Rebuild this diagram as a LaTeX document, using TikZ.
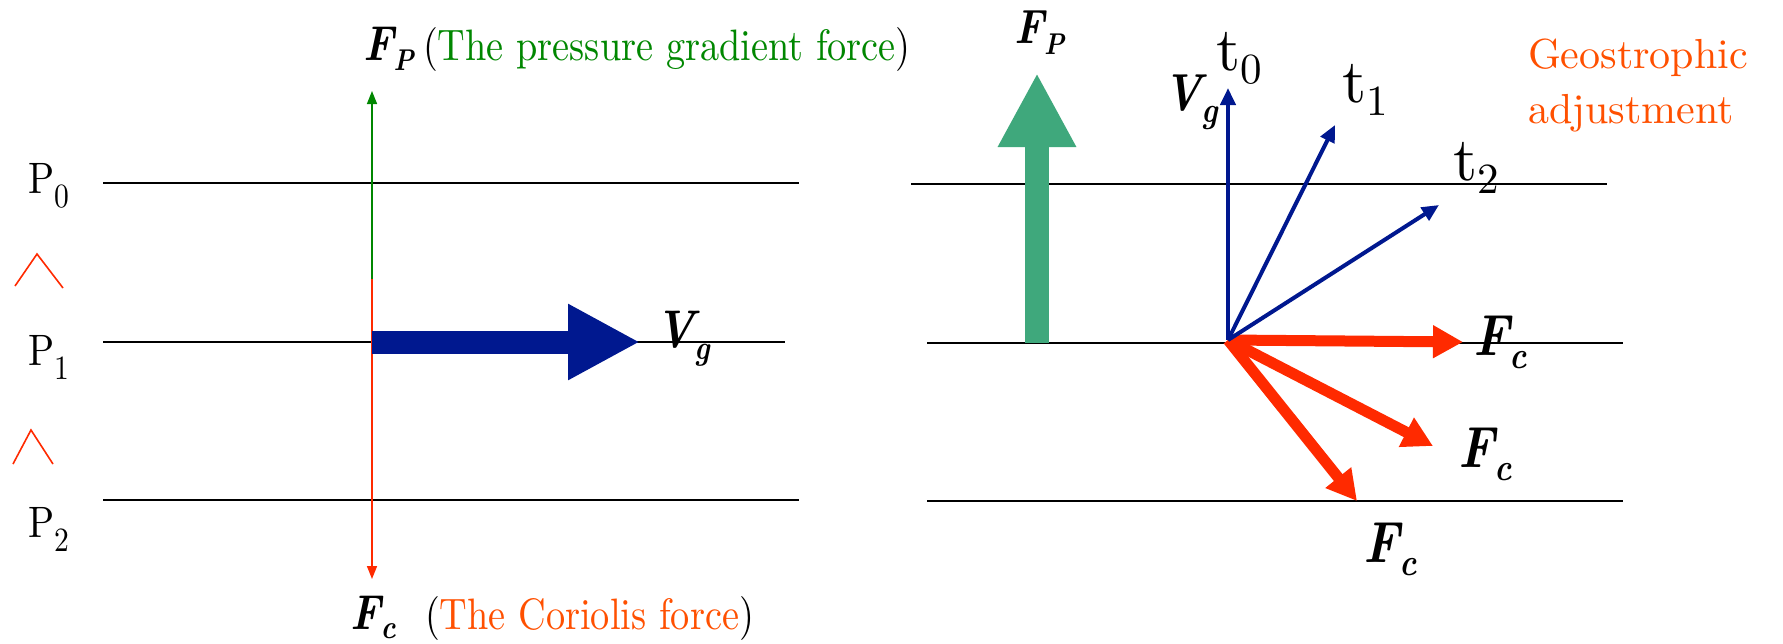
\documentclass[tikz,border=0pt]{standalone}
\usepackage{graphicx}
\usepackage{fontspec}
\newfontfamily\condrm{lmroman10-regular}[Extension=.otf]
\newfontfamily\plainrm{lmroman10-regular}[Extension=.otf]
\newfontfamily\condbi{lmroman10-bolditalic}[Extension=.otf]
\usetikzlibrary{arrows.meta}
\definecolor{fgreen}{RGB}{0,135,0}
\definecolor{orng}{RGB}{255,80,0}
\definecolor{fred}{RGB}{255,42,0}
\definecolor{vnavy}{RGB}{0,24,143}
\definecolor{pgreen}{RGB}{63,168,124}
\newcommand\lowsub[3]{\raisebox{-#2}{\fontsize{#1}{#1}\selectfont #3}}
\newcommand\vecl[5]{\scalebox{0.86}[1]{\condbi\fontsize{#1}{#1}\selectfont #2\lowsub{#3}{#4}{#5}}}
\newcommand\narrow[1]{\scalebox{0.87}[1]{#1}}
\tikzset{
  lbl/.style={anchor=base west, inner sep=0pt, outer sep=0pt},
  level/.style={black, line width=1.4pt},
  thinvec/.style={line width=0.75pt, -{Triangle[length=6.5pt,width=5pt]}},
  bluevec/.style={vnavy, line width=2pt, -{Triangle[length=8.5pt,width=7.5pt]}},
  redvec/.style={fred, line width=5.5pt, -{Triangle[length=15pt,width=15.5pt]}},
  bigblue/.style={vnavy, line width=11.5pt, -{Triangle[length=36pt,width=35.5pt]}},
  biggreen/.style={pgreen, line width=12pt, -{Triangle[length=37pt,width=36.5pt]}},
  caret/.style={fred, line width=0.8pt},
}
\begin{document}
\begin{tikzpicture}[x=0.5pt,y=-0.5pt]
\useasboundingbox (0,0) rectangle (1783,643);
\fill[white] (0,0) rectangle (1783,643);

% ---------- left panel ----------
\coordinate (a0) at (103,183); \coordinate (b0) at (799,183);
\coordinate (a1) at (103,342); \coordinate (b1) at (785,342);
\coordinate (a2) at (103,500); \coordinate (b2) at (799,500);
\draw[level] (a0) -- (b0);
\draw[level] (a1) -- (b1);
\draw[level] (a2) -- (b2);

\node[lbl] (p0) at (28,193) {\narrow{\condrm\fontsize{22}{22}\selectfont P\lowsub{17}{7pt}{0}}};
\node[lbl] (p1) at (28,365) {\narrow{\condrm\fontsize{22}{22}\selectfont P\lowsub{17}{7pt}{1}}};
\node[lbl] (p2) at (28,537) {\narrow{\condrm\fontsize{22}{22}\selectfont P\lowsub{17}{7pt}{2}}};

\draw[caret] (15,286) -- (37,254) -- (63,288);
\draw[caret] (13,464) -- (31,430) -- (53,464);

\coordinate (mid) at (372,279);
\coordinate (fpTip) at (372,91);
\coordinate (fcTip) at (372,579);
\draw[thinvec, fgreen] (mid) -- (fpTip);
\draw[thinvec, fred] (mid) -- (fcTip);

\coordinate (vgStart) at (372,342);
\coordinate (vgTip) at (640,342);
\draw[bigblue] (vgStart) -- (vgTip);

\node[lbl] (fpL) at (363,60) {\vecl{24.5}{F}{15}{5pt}{P}};
\node[lbl] (fpText) at (423,60) {\narrow{\condrm\fontsize{22}{22}\selectfont (\textcolor{fgreen}{The pressure gradient force})}};
\node[lbl] (vgL) at (655,347) {\vecl{26.5}{V}{17}{6pt}{g}};
\node[lbl] (fcL) at (350,629) {\vecl{24.5}{F}{16.5}{4.5pt}{c}};
\node[lbl] (fcText) at (425,629) {\narrow{\condrm\fontsize{22}{22}\selectfont (\textcolor{orng}{The Coriolis force})}};

% ---------- right panel ----------
\coordinate (c0) at (911,184); \coordinate (d0) at (1607,184);
\coordinate (c1) at (927,343); \coordinate (d1) at (1623,343);
\coordinate (c2) at (927,501); \coordinate (d2) at (1623,501);
\draw[level] (c0) -- (d0);
\draw[level] (c1) -- (d1);
\draw[level] (c2) -- (d2);

\coordinate (gpBase) at (1037,343);
\coordinate (gpTip) at (1037,73);
\draw[biggreen] (gpBase) -- (gpTip);
\node[lbl] (fpR) at (1014,43) {\vecl{24}{F}{15}{5.5pt}{P}};

\coordinate (O) at (1228,340);
\coordinate (t0) at (1228,88);
\coordinate (t1) at (1335,125);
\coordinate (t2) at (1439,205);
\coordinate (f0) at (1463,342);
\coordinate (f1) at (1433,446);
\coordinate (f2) at (1357,501);
\draw[redvec] (O) -- (f0);
\draw[redvec] (O) -- (f1);
\draw[redvec] (O) -- (f2);
\draw[bluevec] (O) -- (t0);
\draw[bluevec] (O) -- (t1);
\draw[bluevec] (O) -- (t2);

\node[lbl] (vgR) at (1163,110) {\vecl{26}{V}{18}{6pt}{g}};
\node[lbl] (lt0) at (1216,70) {\plainrm\fontsize{31}{31}\selectfont t\lowsub{21.5}{6.5pt}{0}};
\node[lbl] (lt1) at (1342,102) {\plainrm\fontsize{31}{31}\selectfont t\lowsub{21.5}{6.5pt}{1}};
\node[lbl] (lt2) at (1453,180) {\plainrm\fontsize{31}{31}\selectfont t\lowsub{21.5}{6.5pt}{2}};

\node[lbl, text=orng] (geo1) at (1528,68) {\plainrm\fontsize{21}{21}\selectfont Geostrophic};
\node[lbl, text=orng] (geo2) at (1528,123) {\plainrm\fontsize{21}{21}\selectfont adjustment};

\node[lbl] (fc0) at (1473,355) {\vecl{29}{F}{19}{6.5pt}{c}};
\node[lbl] (fc1) at (1458,467) {\vecl{29}{F}{19}{6.5pt}{c}};
\node[lbl] (fc2) at (1363,562) {\vecl{29}{F}{19}{6.5pt}{c}};
\end{tikzpicture}
\end{document}
